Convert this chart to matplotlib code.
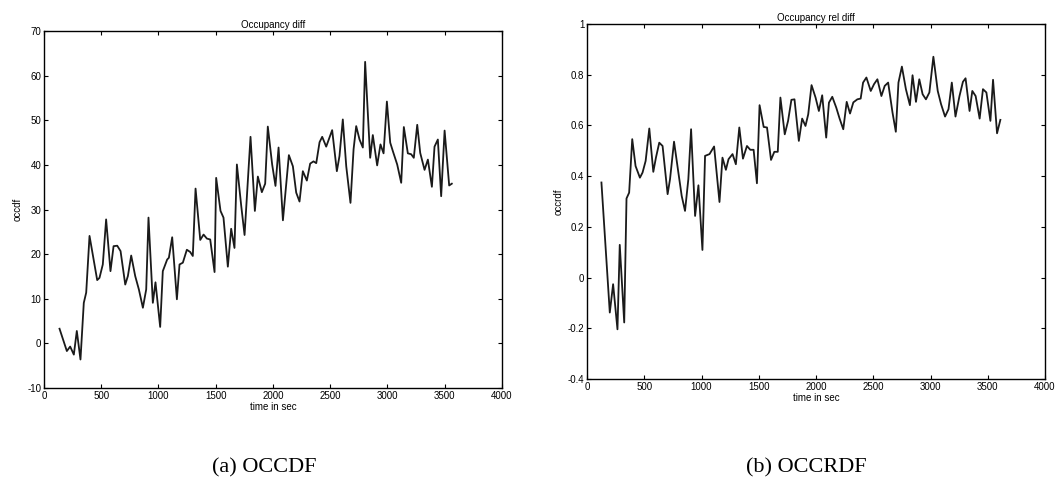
import matplotlib
matplotlib.use("Agg")
import matplotlib.pyplot as plt

plt.rcParams['font.family'] = ['Liberation Sans', 'DejaVu Sans']
plt.rcParams['axes.unicode_minus'] = False

# (a) occupancy difference
occdf_t = [136, 200, 229, 261, 287, 319, 348, 369, 398, 465, 485, 514, 543, 581,
           608, 640, 669, 710, 733, 762, 797, 829, 864, 893, 913, 951, 974, 1015,
           1038, 1076, 1091, 1120, 1161, 1184, 1213, 1248, 1277, 1300, 1324, 1365,
           1394, 1423, 1452, 1490, 1504, 1542, 1568, 1606, 1635, 1664, 1685, 1723,
           1752, 1804, 1842, 1868, 1903, 1932, 1955, 1993, 2022, 2049, 2087, 2139,
           2174, 2203, 2232, 2261, 2296, 2325, 2354, 2378, 2407, 2430, 2465, 2517,
           2558, 2581, 2610, 2640, 2677, 2704, 2727, 2756, 2785, 2805, 2849, 2872,
           2910, 2939, 2966, 2995, 3024, 3047, 3085, 3120, 3143, 3178, 3207, 3230,
           3260, 3286, 3324, 3353, 3388, 3411, 3440, 3469, 3499, 3539, 3562]
occdf = [3.3, -1.7, -0.7, -2.5, 2.8, -3.6, 9.1, 11.4, 24.1, 14.2, 14.7, 17.7, 27.8, 16.2,
         21.8, 21.9, 20.7, 13.2, 15.1, 19.7, 15.1, 12.1, 8.0, 12.1, 28.2, 9.1, 13.7, 3.7,
         16.2, 18.8, 19.2, 23.8, 9.9, 17.7, 18.1, 21.0, 20.5, 19.6, 34.7, 23.2,
         24.4, 23.5, 23.3, 16.0, 37.1, 29.7, 28.2, 17.2, 25.7, 21.4, 40.1, 30.8,
         24.3, 46.3, 29.7, 37.4, 33.9, 35.8, 48.6, 40.1, 35.3, 43.9, 27.6, 42.2,
         39.7, 33.8, 31.8, 38.6, 36.5, 40.3, 40.8, 40.4, 45.1, 46.3, 44.1, 47.8,
         38.6, 42.0, 50.2, 39.7, 31.5, 43.5, 48.7, 45.7, 43.9, 63.1, 41.6, 46.7,
         39.9, 44.6, 42.6, 54.2, 45.0, 43.1, 40.1, 36.0, 48.5, 42.6, 42.4, 41.6,
         49.0, 42.7, 38.9, 41.2, 35.1, 44.1, 45.7, 33.0, 47.7, 35.4, 35.8]

# (b) occupancy relative difference
occrdf_t = [126, 199, 228, 266, 286, 325, 345, 368, 395, 424, 462, 485, 512, 544,
            579, 602, 631, 660, 704, 725, 760, 798, 827, 856, 885, 909, 944, 973,
            1008, 1031, 1070, 1110, 1157, 1183, 1213, 1236, 1271, 1300, 1330, 1362,
            1397, 1426, 1455, 1484, 1507, 1543, 1572, 1607, 1636, 1666, 1689, 1727,
            1756, 1785, 1812, 1850, 1879, 1908, 1932, 1961, 1996, 2025, 2054, 2089,
            2113, 2142, 2177, 2206, 2238, 2268, 2297, 2326, 2361, 2390, 2411, 2440,
            2478, 2507, 2536, 2571, 2600, 2630, 2668, 2697, 2720, 2750, 2785, 2820,
            2843, 2873, 2902, 2931, 2960, 2990, 3025, 3063, 3092, 3127, 3157, 3186,
            3218, 3253, 3283, 3306, 3341, 3365, 3394, 3429, 3458, 3488, 3523, 3546,
            3581, 3610]
occrdf = [0.375, -0.138, -0.026, -0.204, 0.129, -0.177, 0.312, 0.335, 0.546, 0.440,
          0.394, 0.414, 0.460, 0.588, 0.417, 0.473, 0.532, 0.519, 0.329, 0.388,
          0.536, 0.414, 0.322, 0.263, 0.388, 0.585, 0.243, 0.364, 0.109, 0.480,
          0.487, 0.517, 0.298, 0.473, 0.425, 0.467, 0.487, 0.447, 0.592, 0.469,
          0.519, 0.504, 0.504, 0.372, 0.680, 0.594, 0.592, 0.464, 0.496, 0.496,
          0.710, 0.565, 0.618, 0.701, 0.703, 0.539, 0.627, 0.598, 0.644, 0.759,
          0.710, 0.657, 0.719, 0.552, 0.690, 0.713, 0.670, 0.627, 0.585, 0.693,
          0.647, 0.691, 0.703, 0.706, 0.769, 0.789, 0.736, 0.763, 0.782, 0.716,
          0.756, 0.769, 0.651, 0.575, 0.769, 0.832, 0.743, 0.680, 0.798, 0.693,
          0.782, 0.723, 0.703, 0.730, 0.871, 0.736, 0.684, 0.635, 0.664, 0.769,
          0.635, 0.716, 0.772, 0.786, 0.657, 0.736, 0.716, 0.627, 0.743, 0.730,
          0.618, 0.780, 0.569, 0.622]

x_ticks = [0, 500, 1000, 1500, 2000, 2500, 3000, 3500, 4000]
a_yticks = [-10, 0, 10, 20, 30, 40, 50, 60, 70]
b_yticks = [-0.4, -0.2, 0, 0.2, 0.4, 0.6, 0.8, 1]
b_ylabels = ['-0.4', '-0.2', '0', '0.2', '0.4', '0.6', '0.8', '1']

fig = plt.figure(figsize=(10.59, 4.9), dpi=100)
ax1 = fig.add_axes([0.0415, 0.208, 0.4325, 0.7286])
ax2 = fig.add_axes([0.5543, 0.2265, 0.4325, 0.7245])

def style(ax):
    ax.set_xlim(0, 4000)
    ax.set_xticks(x_ticks)
    ax.tick_params(direction='in', top=True, right=True, length=3, width=0.8,
                   labelsize=7, pad=2)
    for s in ax.spines.values():
        s.set_linewidth(1.0)
    ax.set_xlabel('time in sec', fontsize=7, labelpad=1)

ax1.plot(occdf_t, occdf, color='#1a1a1a', lw=1.3)
style(ax1)
ax1.set_ylim(-10, 70)
ax1.set_yticks(a_yticks)
ax1.set_ylabel('occdf', fontsize=7, labelpad=3)
ax1.set_title('Occupancy diff', fontsize=7, pad=2)

ax2.plot(occrdf_t, occrdf, color='#1a1a1a', lw=1.3)
style(ax2)
ax2.set_ylim(-0.4, 1)
ax2.set_yticks(b_yticks)
ax2.set_yticklabels(b_ylabels)
ax2.set_ylabel('occrdf', fontsize=7, labelpad=3)
ax2.set_title('Occupancy rel diff', fontsize=7, pad=2)

fig.text(0.25, 0.036, '(a) OCCDF', fontsize=16, family='Liberation Serif', ha='center')
fig.text(0.761, 0.036, '(b) OCCRDF', fontsize=16, family='Liberation Serif', ha='center')

fig.savefig('out.png', dpi=100)
